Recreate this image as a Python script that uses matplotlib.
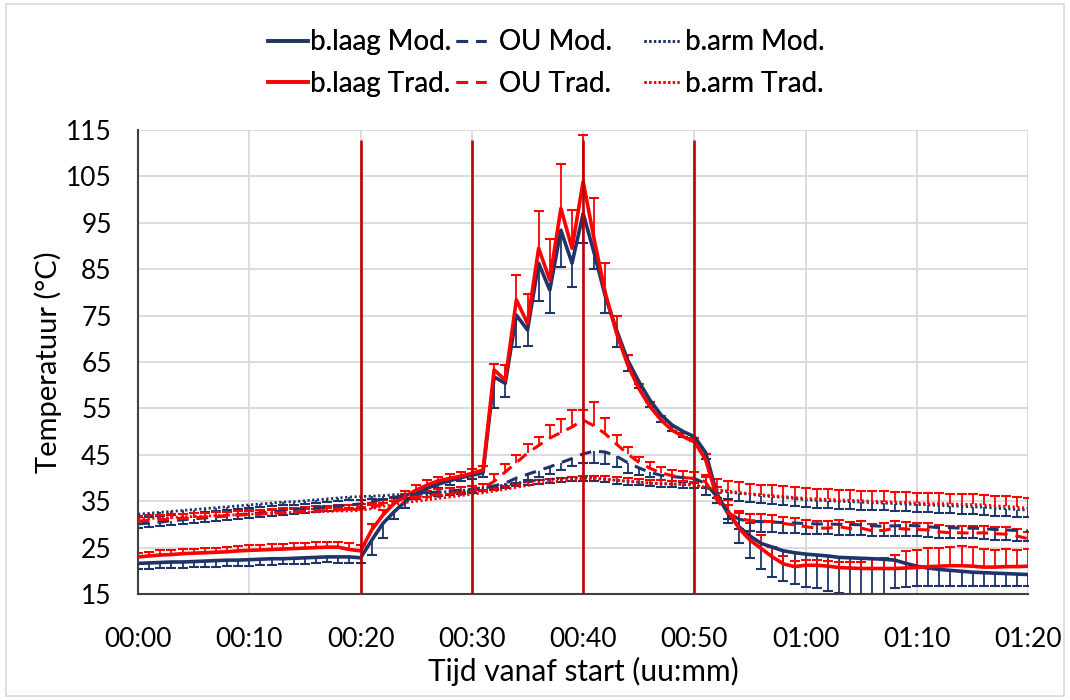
import numpy as np
import matplotlib
matplotlib.use("Agg")
import matplotlib.pyplot as plt
from matplotlib.patches import Rectangle

plt.rcParams['font.family'] = ['Lato', 'DejaVu Sans']

# time in minutes since start (one sample per minute)
minutes = np.arange(0, 81)
tick_minutes = [0, 10, 20, 30, 40, 50, 60, 70, 80]
tick_labels = ["00:00", "00:10", "00:20", "00:30", "00:40", "00:50", "01:00", "01:10", "01:20"]
phase_marks = [20, 30, 40, 50]

blaag_mod = [21.6, 21.7, 21.8, 21.9, 21.9, 22.0, 22.1, 22.2, 22.3, 22.3, 22.4, 22.5, 22.6, 22.6, 22.7, 22.8, 22.9, 23.0, 23.0, 23.0, 22.8,
             26.6, 30.2, 32.7, 34.9, 36.6, 37.8, 38.7, 39.4, 40.1, 40.6, 41.1,
             61.8, 60.4, 75.1, 71.9, 86.3, 80.5, 93.4, 86.3, 97.0, 88.4, 79.1, 71.9, 65.4, 60.8, 56.8, 53.6, 51.4, 50.0, 48.9,
             45.5, 36.7, 32.4, 29.5, 27.5, 25.9, 25.1, 24.3, 23.9, 23.6, 23.4, 23.2, 22.9, 22.8,
             22.7, 22.6, 22.5, 22.3, 21.6, 21.0, 20.6, 20.3, 20.1, 19.9, 19.7, 19.6, 19.5, 19.4, 19.3, 19.2]
blaag_mod_err = [1.3, 1.3, 1.2, 1.3, 1.3, 1.2, 1.3, 1.3, 1.3, 1.2, 1.3, 1.3, 1.3, 1.2, 1.3, 1.3, 1.3, 1.2, 1.3, 1.3, 1.2,
                 3.2, 3.2, 1.6, 1.4, 1.2, 1.0, 0.9, 0.9, 0.8, 0.8, 0.8,
                 6.8, 2.9, 6.8, 3.5, 8.1, 4.9, 7.9, 5.1, 6.4, 3.4, 3.5, 3.6, 2.3, 1.5, 1.5, 1.5, 1.2, 1.2, 1.0,
                 1.5, 2.0, 2.2, 3.6, 4.8, 5.6, 6.4, 6.6, 6.7, 7.1, 7.2, 7.5, 7.6, 7.8,
                 7.8, 7.6, 7.4, 6.0, 5.0, 4.3, 3.8, 3.5, 3.3, 3.2, 3.0, 2.9, 2.8, 2.7, 2.6, 2.5]

blaag_trad = [23.0, 23.2, 23.4, 23.5, 23.7, 23.8, 23.9, 24.0, 24.1, 24.3, 24.4, 24.5, 24.6, 24.7, 24.8, 24.9, 25.0, 25.1, 25.1, 24.6, 24.3,
              28.8, 32.0, 34.5, 36.1, 37.4, 38.5, 39.4, 39.9, 40.4, 41.0, 41.7,
              63.3, 61.1, 78.4, 73.3, 89.5, 82.7, 98.1, 89.5, 103.9, 91.3, 79.8, 71.2, 64.4, 59.3, 55.4, 52.5, 50.3, 48.9, 47.8,
              44.0, 36.0, 33.0, 29.2, 26.6, 24.8, 23.0, 21.5, 20.9, 21.2, 21.2, 21.0, 20.7, 20.6,
              20.5, 20.5, 20.5, 20.5, 20.6, 20.7, 20.9, 21.0, 21.1, 21.1, 21.0, 20.8, 20.8, 20.9, 20.9, 21.0]
blaag_trad_err = [0.9, 0.9, 1.0, 1.0, 1.0, 1.0, 1.1, 1.0, 1.1, 1.1, 1.1, 1.1, 1.2, 1.1, 1.2, 1.2, 1.2, 1.2, 1.2, 1.3, 1.2,
                  1.3, 1.2, 1.1, 1.0, 1.0, 1.0, 0.9, 0.9, 0.9, 0.9, 0.9,
                  1.2, 3.2, 5.4, 6.3, 8.1, 8.8, 9.6, 8.3, 10.0, 9.0, 6.6, 3.8, 2.1, 1.0, 0.9, 0.8, 0.8, 0.8, 0.9,
                  1.2, 2.0, 2.3, 3.2, 3.6, 3.0, 2.2, 1.6, 1.3, 1.2, 1.2, 1.2, 1.3, 1.3,
                  1.5, 2.0, 2.3, 3.0, 3.6, 3.8, 4.1, 4.0, 4.1, 4.2, 4.1, 3.8, 3.7, 3.7, 3.6, 3.6]

ou_mod = [30.1, 30.3, 30.5, 30.8, 31.0, 31.2, 31.4, 31.6, 31.9, 32.1, 32.3, 32.5, 32.7, 32.9, 33.2, 33.4, 33.6, 33.8, 34.0, 34.2, 34.4,
          35.0, 35.4, 35.8, 36.2, 36.5, 36.8, 37.0, 37.2, 37.4, 37.6, 37.9,
          38.3, 38.9, 40.0, 40.8, 41.6, 42.4, 43.3, 44.2, 45.2, 45.8, 45.6, 44.7, 43.3, 42.2, 41.2, 40.6, 40.3, 40.1, 39.9,
          38.8, 36.0, 32.7, 31.1, 30.7, 30.6, 30.5, 30.4, 30.3, 30.2, 30.1, 30.1, 30.0, 30.0,
          29.9, 29.7, 29.6, 29.7, 29.8, 29.7, 29.5, 29.3, 29.3, 29.2, 29.2, 29.1, 28.9, 28.8, 28.7, 28.6]
ou_mod_err = [0.9, 0.9, 0.9, 0.9, 0.9, 0.9, 0.9, 0.9, 0.9, 0.9, 0.9, 0.9, 0.9, 0.9, 0.9, 0.9, 0.9, 0.9, 0.9, 0.9, 0.9,
              0.8, 0.8, 0.8, 0.8, 0.8, 0.8, 0.8, 0.8, 0.8, 0.8, 0.8,
              0.8, 0.9, 1.0, 1.2, 1.4, 1.6, 1.6, 1.6, 2.0, 2.6, 2.6, 2.4, 2.2, 1.6, 1.0, 1.0, 1.0, 0.9, 0.9,
              1.0, 1.3, 1.6, 2.0, 2.1, 2.2, 2.2, 2.2, 2.2, 2.2, 2.2, 2.2, 2.2, 2.2,
              2.2, 2.2, 2.2, 2.2, 2.2, 2.2, 2.2, 2.2, 2.2, 2.2, 2.2, 2.2, 2.2, 2.2, 2.2, 2.2]

ou_trad = [30.7, 30.9, 31.0, 31.2, 31.3, 31.4, 31.6, 31.7, 31.8, 32.0, 32.1, 32.2, 32.4, 32.5, 32.6, 32.8, 32.9, 33.0, 33.1, 33.2, 33.3,
           33.7, 34.3, 35.0, 35.6, 36.0, 36.3, 36.6, 36.8, 37.0, 37.3, 37.8,
           39.3, 41.3, 43.3, 45.4, 47.0, 48.6, 49.8, 51.0, 52.5, 51.2, 49.5, 47.3, 45.2, 43.4, 42.1, 41.1, 40.5, 40.1, 39.9,
           39.2, 35.3, 32.5, 31.3, 30.8, 30.7, 30.6, 30.2, 29.9, 29.5, 29.2, 29.2, 29.5, 29.1,
           29.2, 28.6, 28.7, 29.2, 29.0, 28.9, 28.8, 28.4, 28.2, 28.2, 28.1, 28.2, 28.0, 27.9, 27.5, 26.9]
ou_trad_err = [1.0, 1.0, 1.0, 1.0, 1.0, 1.0, 1.0, 1.0, 1.0, 1.0, 1.0, 1.0, 1.0, 1.0, 1.0, 1.0, 1.0, 1.0, 1.0, 1.0, 1.0,
               1.0, 1.0, 1.0, 1.0, 1.0, 1.0, 1.0, 1.0, 1.0, 1.0, 1.0,
               1.5, 1.7, 1.7, 2.0, 1.9, 2.9, 2.9, 3.7, 2.2, 5.2, 3.4, 2.0, 1.5, 1.2, 1.4, 1.3, 1.3, 1.5, 1.5,
               1.4, 1.5, 1.6, 1.6, 1.5, 1.5, 1.5, 1.5, 1.5, 1.5, 1.5, 1.5, 1.5, 1.5,
               1.5, 1.5, 1.5, 1.5, 1.5, 1.5, 1.5, 1.5, 1.5, 1.5, 1.5, 1.5, 1.5, 1.5, 1.5, 1.5]

barm_mod = [32.2, 32.4, 32.6, 32.8, 33.0, 33.2, 33.4, 33.6, 33.8, 34.0, 34.2, 34.4, 34.6, 34.8, 34.9, 35.1, 35.3, 35.5, 35.7, 35.9, 36.0,
            36.1, 36.2, 36.4, 36.4, 36.5, 36.7, 36.9, 37.1, 37.3, 37.5, 37.8,
            38.1, 38.5, 38.9, 39.2, 39.5, 39.7, 39.9, 40.0, 40.1, 40.0, 39.8, 39.5, 39.3, 39.1, 38.9, 38.8, 38.7, 38.6, 38.5,
            37.9, 37.4, 37.0, 36.7, 36.5, 36.2, 36.0, 35.8, 35.6, 35.3, 35.2, 35.1, 35.0, 34.9,
            34.8, 34.7, 34.6, 34.5, 34.4, 34.3, 34.2, 34.1, 34.0, 33.9, 33.8, 33.7, 33.5, 33.4, 33.2, 33.1]
barm_mod_err = [0.7] * 51 + [1.6] * 30

barm_trad = [31.2, 31.3, 31.4, 31.5, 31.6, 31.7, 31.8, 31.9, 32.0, 32.1, 32.2, 32.3, 32.4, 32.5, 32.6, 32.6, 32.7, 32.8, 32.9, 32.9, 33.0,
             33.4, 33.9, 34.3, 34.7, 35.0, 35.3, 35.6, 35.9, 36.2, 36.5, 36.8,
             37.2, 37.6, 38.0, 38.4, 38.8, 39.1, 39.4, 39.6, 39.8, 39.8, 39.7, 39.5, 39.3, 39.1, 38.9, 38.8, 38.7, 38.6, 38.5,
             38.0, 37.5, 37.2, 36.9, 36.6, 36.4, 36.2, 36.0, 35.8, 35.6, 35.5, 35.4, 35.3, 35.2,
             35.1, 35.0, 34.9, 34.8, 34.7, 34.6, 34.5, 34.5, 34.4, 34.3, 34.3, 34.2, 34.0, 33.9, 33.7, 33.5]
barm_trad_err = [0.7] * 51 + [2.2] * 30

navy = "#1f3468"
red = "#ff0000"


def err_bars(ax, y, e, color, down):
    y = np.asarray(y)
    e = np.asarray(e)
    end = y - e if down else y + e
    ax.vlines(minutes, np.minimum(y, end), np.maximum(y, end), color=color, lw=1.3, zorder=2)
    ax.plot(minutes, end, ls='none', marker='_', ms=7, mew=1.5, color=color, zorder=2)


fig = plt.figure(figsize=(10.7, 7), dpi=100)
ax = fig.add_axes([0.129, 0.1514, 0.832, 0.6629])

dash = (0, (3.8, 2.6))
dot = (0, (0.8, 0.9))

series = [
    (blaag_mod, blaag_mod_err, navy, '-', 2.6, True, "b.laag Mod."),
    (blaag_trad, blaag_trad_err, red, '-', 2.6, False, "b.laag Trad."),
    (ou_mod, ou_mod_err, navy, dash, 2.2, True, "OU Mod."),
    (ou_trad, ou_trad_err, red, dash, 2.2, False, "OU Trad."),
    (barm_mod, barm_mod_err, navy, dot, 2.0, True, "b.arm Mod."),
    (barm_trad, barm_trad_err, red, dot, 2.0, False, "b.arm Trad."),
]

handles = []
for y, e, c, ls, lw, down, lab in series:
    err_bars(ax, y, e, c, down)
    h, = ax.plot(minutes, y, color=c, ls=ls, lw=lw, label=lab, zorder=3)
    handles.append(h)

ax.vlines(phase_marks, 15, 112.8, color="#c00000", lw=1.9, zorder=4)

ax.set_xlim(0, 80)
ax.set_ylim(15, 115)
ax.set_xticks(tick_minutes)
ax.set_xticklabels(tick_labels)
ax.set_yticks(np.arange(15, 116, 10))
ax.tick_params(axis='both', length=0, labelsize=19)
ax.tick_params(axis='x', pad=24)
ax.tick_params(axis='y', pad=19)
ax.grid(True, color="#d9d9d9", lw=1.3, zorder=0)
ax.set_axisbelow(True)
for s in ['top', 'right']:
    ax.spines[s].set_visible(False)
for s in ['left', 'bottom']:
    ax.spines[s].set_color("#404040")
    ax.spines[s].set_linewidth(1.5)

ax.set_xlabel("Tijd vanaf start (uu:mm)", fontsize=21.5, labelpad=3)
ax.set_ylabel("Temperatuur (°C)", fontsize=21, labelpad=3)

# legend: one block per column, as in the original layout
legend_cols = [(0, 0.2505, 1.45, 0.07), (2, 0.426, 1.1, 0.45), (4, 0.602, 1.25, 0.22)]
for i, x0, hl, pad in legend_cols:
    leg = fig.legend(handles=handles[i:i + 2], loc='upper left', bbox_to_anchor=(x0, 0.958),
                     frameon=False, fontsize=20, handlelength=hl, handletextpad=pad,
                     borderpad=0, borderaxespad=0, labelspacing=0.55)
    fig.add_artist(leg)

fig.patches.append(Rectangle((0.006, 0.006), 0.988, 0.988, transform=fig.transFigure,
                             fill=False, edgecolor="#d9d9d9", lw=1.2))

fig.savefig("out.png", dpi=100)
